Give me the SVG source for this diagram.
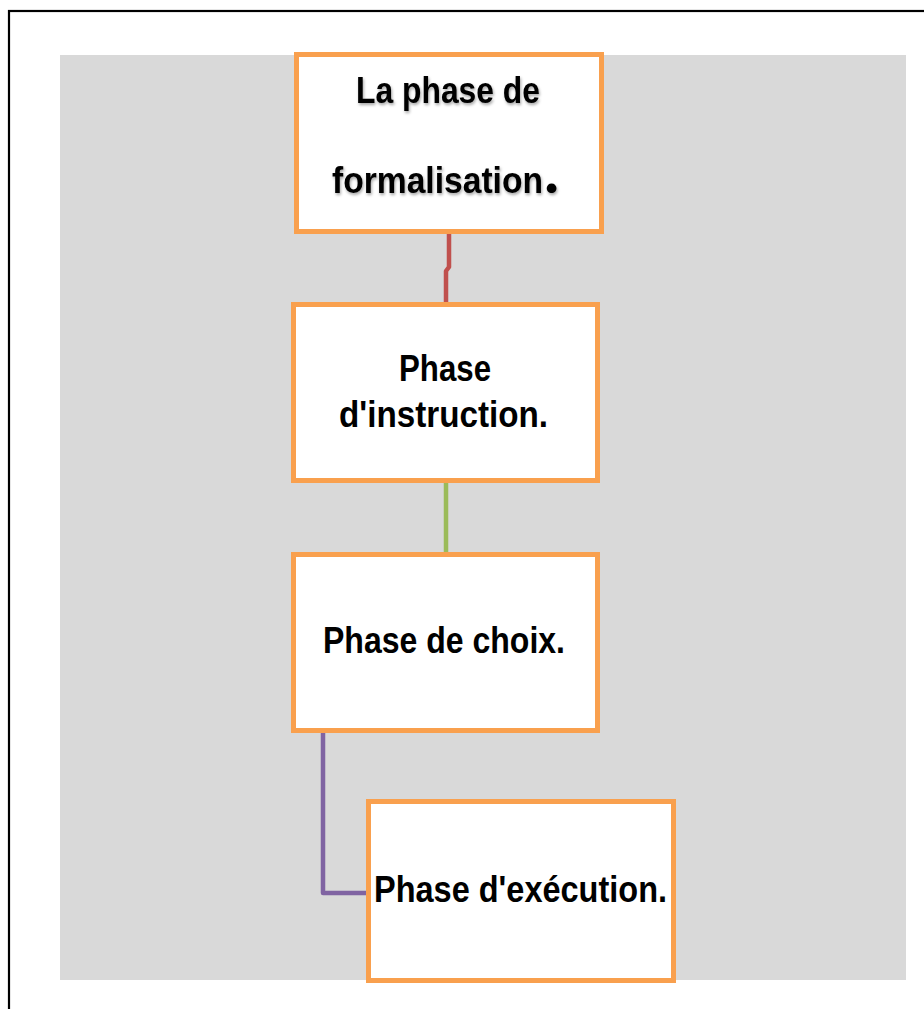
<svg xmlns="http://www.w3.org/2000/svg" width="924" height="1009" viewBox="0 0 924 1009">
  <defs>
    <style>
      .box { fill: #ffffff; stroke: #F9A04E; stroke-width: 5; }
      .lbl { font-family: "Liberation Sans", "Open Sans", sans-serif; font-weight: bold; font-size: 37px; fill: #000000; }
      .conn { fill: none; stroke-width: 4.5; stroke-linejoin: round; }
    </style>
    <filter id="soft" x="-10%" y="-20%" width="120%" height="140%">
      <feDropShadow dx="1" dy="2" stdDeviation="1.5" flood-color="#000000" flood-opacity="0.35"/>
    </filter>
  </defs>

  <!-- page frame -->
  <rect x="0" y="0" width="924" height="1009" fill="#ffffff"/>
  <rect x="9" y="11" width="930" height="1010" fill="none" stroke="#000000" stroke-width="2.2"/>

  <!-- grey canvas -->
  <rect x="60" y="55" width="846" height="925" fill="#D9D9D9"/>

  <!-- connectors -->
  <g id="connectors">
    <path class="conn" stroke="#C0504D" d="M449,234 V267 L446,271 V302"/>
    <path class="conn" stroke="#9BBB59" d="M446,483 V552"/>
    <path class="conn" stroke="#8064A2" d="M323,733 V893 H366"/>
  </g>

  <!-- nodes -->
  <g id="node-formalisation">
    <rect class="box" x="296.5" y="54.5" width="305" height="177"/>
    <g filter="url(#soft)">
      <text class="lbl" x="356" y="103" textLength="184" lengthAdjust="spacingAndGlyphs">La phase de</text>
      <text class="lbl" x="332" y="193"><tspan textLength="211" lengthAdjust="spacingAndGlyphs">formalisation</tspan><tspan font-family="Lato, sans-serif" font-size="64" dx="1">.</tspan></text>
    </g>
  </g>

  <g id="node-instruction">
    <rect class="box" x="293.5" y="304.5" width="304" height="176"/>
    <text class="lbl" x="399" y="381" textLength="92" lengthAdjust="spacingAndGlyphs">Phase</text>
    <text class="lbl" x="339" y="427" textLength="209" lengthAdjust="spacingAndGlyphs">d'instruction.</text>
  </g>

  <g id="node-choix">
    <rect class="box" x="293.5" y="554.5" width="304" height="176"/>
    <text class="lbl" x="323" y="653" textLength="242" lengthAdjust="spacingAndGlyphs">Phase de choix.</text>
  </g>

  <g id="node-execution">
    <rect class="box" x="368.5" y="801.5" width="305" height="179"/>
    <text class="lbl" x="374" y="902" textLength="293" lengthAdjust="spacingAndGlyphs">Phase d'exécution.</text>
  </g>
</svg>
